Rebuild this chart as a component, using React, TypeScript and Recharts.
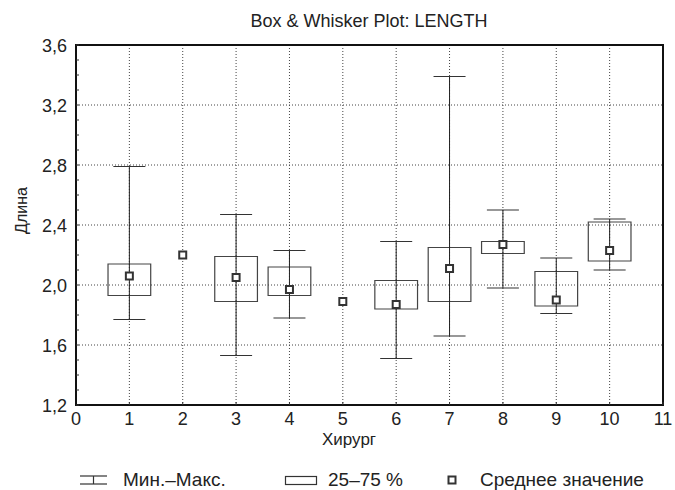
import React from "react";
import {
  ComposedChart,
  XAxis,
  YAxis,
  CartesianGrid,
  Scatter,
  ReferenceLine,
  ReferenceArea,
} from "recharts";

const surgeons = [1, 2, 3, 4, 5, 6, 7, 8, 9, 10];
const minVals: (number | null)[] = [1.77, null, 1.53, 1.78, null, 1.51, 1.66, 1.98, 1.81, 2.1];
const maxVals: (number | null)[] = [2.79, null, 2.47, 2.23, null, 2.29, 3.39, 2.5, 2.18, 2.44];
const q1Vals: (number | null)[] = [1.93, null, 1.89, 1.93, null, 1.84, 1.89, 2.21, 1.86, 2.16];
const q3Vals: (number | null)[] = [2.14, null, 2.19, 2.12, null, 2.03, 2.25, 2.29, 2.09, 2.42];
const meanVals = [2.06, 2.2, 2.05, 1.97, 1.89, 1.87, 2.11, 2.27, 1.9, 2.23];

const xTicks = [0, 1, 2, 3, 4, 5, 6, 7, 8, 9, 10, 11];
const yTicks = [1.2, 1.6, 2.0, 2.4, 2.8, 3.2, 3.6];
const yMinorTicks = [
  1.2, 1.3, 1.4, 1.5, 1.6, 1.7, 1.8, 1.9, 2.0, 2.1, 2.2, 2.3, 2.4, 2.5, 2.6, 2.7,
  2.8, 2.9, 3.0, 3.1, 3.2, 3.3, 3.4, 3.5, 3.6,
];
const legendLabels = ["Мин.–Макс.", "25–75 %", "Среднее значение"];

const FONT = "'Liberation Sans', Arial, sans-serif";
const BOX_HALF = 0.4;
const CAP_HALF = 0.3;
const LINE = "#222";
const TEXT = "#222";

const meanData = surgeons.map((s, i) => ({ x: s, y: meanVals[i] }));

const MeanMarker = (props: any) => {
  const { cx, cy } = props;
  if (cx == null || cy == null) return <g />;
  return (
    <rect x={cx - 3.5} y={cy - 3.5} width={7} height={7} fill="#fff" stroke="#333" strokeWidth={2} />
  );
};

const Empty = () => <g />;

const fmt = (v: number) => v.toFixed(1).replace(".", ",");
const isMajor = (v: number) => yTicks.some((t) => Math.abs(t - v) < 1e-6);

const XTick = (props: any) => {
  const { x, y, payload } = props;
  return (
    <text x={x} y={y} dy={13} textAnchor="middle" fill={TEXT} fontSize={18} fontFamily={FONT}>
      {payload.value}
    </text>
  );
};

const YTick = (props: any) => {
  const { x, y, payload } = props;
  if (!isMajor(payload.value)) return <g />;
  return (
    <text x={x} y={y} dy={6.5} textAnchor="end" fill={TEXT} fontSize={18} fontFamily={FONT}>
      {fmt(payload.value)}
    </text>
  );
};

export default function App() {
  return (
    <div style={{ position: "absolute", left: 0, top: 0, width: 675, height: 490, background: "#fff" }}>
      <ComposedChart width={675} height={490} margin={{ top: 45, right: 12, bottom: 55, left: 26 }}>
        <CartesianGrid
          xAxisId="main"
          yAxisId="main"
          strokeDasharray="1 2"
          stroke="#444"
          horizontalValues={yTicks}
          verticalValues={xTicks}
        />
        <XAxis
          xAxisId="main"
          type="number"
          dataKey="x"
          domain={[0, 11]}
          ticks={xTicks}
          interval={0}
          tickSize={-3}
          tickMargin={10}
          tickLine={{ stroke: "#333" }}
          height={30}
          axisLine={{ stroke: "#111", strokeWidth: 2 }}
          tick={<XTick />}
          allowDataOverflow
        />
        <YAxis
          yAxisId="main"
          type="number"
          dataKey="y"
          domain={[1.2, 3.6]}
          ticks={yMinorTicks}
          interval={0}
          tickSize={-3}
          tickMargin={12}
          tickLine={{ stroke: "#333" }}
          width={50}
          axisLine={{ stroke: "#111", strokeWidth: 2 }}
          tick={<YTick />}
          allowDataOverflow
        />
        <YAxis
          yAxisId="right"
          orientation="right"
          type="number"
          dataKey="y"
          domain={[1.2, 3.6]}
          ticks={yMinorTicks}
          interval={0}
          width={0}
          tick={false}
          tickSize={-3}
          tickLine={{ stroke: "#333" }}
          axisLine={{ stroke: "#111", strokeWidth: 2 }}
          allowDataOverflow
        />
        <ReferenceArea
          xAxisId="main"
          yAxisId="main"
          x1={xTicks[0]}
          x2={xTicks[xTicks.length - 1]}
          y1={yTicks[0]}
          y2={yTicks[yTicks.length - 1]}
          fill="none"
          fillOpacity={0}
          stroke="#111"
          strokeWidth={2}
        />
        {surgeons.map((s, i) => {
          const lo = minVals[i];
          const hi = maxVals[i];
          if (lo == null || hi == null) return null;
          return (
            <ReferenceLine
              key={"w" + s}
              xAxisId="main"
              yAxisId="main"
              segment={[
                { x: s, y: lo },
                { x: s, y: hi },
              ]}
              stroke={LINE}
              strokeWidth={1}
            />
          );
        })}
        {surgeons.map((s, i) => {
          const lo = minVals[i];
          if (lo == null) return null;
          return (
            <ReferenceLine
              key={"cl" + s}
              xAxisId="main"
              yAxisId="main"
              segment={[
                { x: s - CAP_HALF, y: lo },
                { x: s + CAP_HALF, y: lo },
              ]}
              stroke="#333"
              strokeWidth={1.2}
            />
          );
        })}
        {surgeons.map((s, i) => {
          const hi = maxVals[i];
          if (hi == null) return null;
          return (
            <ReferenceLine
              key={"ch" + s}
              xAxisId="main"
              yAxisId="main"
              segment={[
                { x: s - CAP_HALF, y: hi },
                { x: s + CAP_HALF, y: hi },
              ]}
              stroke="#333"
              strokeWidth={1.2}
            />
          );
        })}
        {surgeons.map((s, i) => {
          const a = q1Vals[i];
          const b = q3Vals[i];
          if (a == null || b == null) return null;
          return (
            <ReferenceArea
              key={"b" + s}
              xAxisId="main"
              yAxisId="main"
              x1={s - BOX_HALF}
              x2={s + BOX_HALF}
              y1={a}
              y2={b}
              fill="none"
              fillOpacity={0}
              stroke="#444"
              strokeWidth={1.2}
            />
          );
        })}
        <Scatter
          xAxisId="main"
          yAxisId="right"
          data={meanData}
          dataKey="y"
          shape={<Empty />}
          isAnimationActive={false}
        />
        <Scatter
          xAxisId="main"
          yAxisId="main"
          data={meanData}
          dataKey="y"
          shape={<MeanMarker />}
          isAnimationActive={false}
        />
      </ComposedChart>
      <svg style={{ position: "absolute", left: 0, top: 0, pointerEvents: "none" }} width={675} height={490}>
        <g fill={TEXT} fontFamily={FONT}>
          <text x={369} y={27} fontSize={18} textAnchor="middle">
            Box &amp; Whisker Plot: LENGTH
          </text>
          <text x={322} y={445} fontSize={17}>
            Хирург
          </text>
          <text x={27} y={210.5} fontSize={16} textAnchor="middle" transform="rotate(-90 27 210.5)">
            Длина
          </text>
        </g>
        <g stroke="#333" strokeWidth={1.2} fill="none">
          <line x1={80} y1={476} x2={107} y2={476} />
          <line x1={93.5} y1={476} x2={93.5} y2={484} />
          <line x1={80} y1={484} x2={107} y2={484} />
          <rect x={285.5} y={476.5} width={31} height={8} />
        </g>
        <rect x={448.5} y={476.5} width={7} height={7} fill="#fff" stroke="#333" strokeWidth={2} />
        <g fill={TEXT} fontSize={19} fontFamily={FONT}>
          <text x={123} y={486}>{legendLabels[0]}</text>
          <text x={328} y={486}>{legendLabels[1]}</text>
          <text x={480} y={486}>{legendLabels[2]}</text>
        </g>
      </svg>
    </div>
  );
}
